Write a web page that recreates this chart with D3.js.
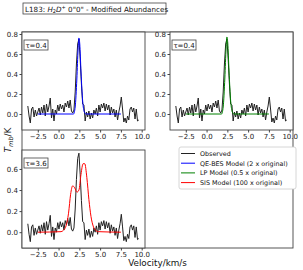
<!DOCTYPE html>
<html>
<head>
<meta charset="utf-8">
<script src="https://cdn.jsdelivr.net/npm/d3@7"></script>
<style>
body { margin: 0; background: #fff; }
text { font-family: "DejaVu Sans", sans-serif; }
</style>
</head>
<body>
<div class="chart"></div>
<script>
// observed spectrum (shared by all three panels)
var obsVel = [-3.70, -3.55, -3.40, -3.25, -3.10, -2.95, -2.80, -2.65, -2.50, -2.35,
    -2.20, -2.05, -1.90, -1.75, -1.60, -1.45, -1.30, -1.15, -1.00, -0.85,
    -0.70, -0.55, -0.40, -0.25, -0.10, 0.05, 0.20, 0.35, 0.50, 0.65,
    0.80, 0.95, 1.10, 1.25, 1.40, 1.55, 1.70, 1.85, 2.00, 2.15,
    2.30, 2.45, 2.60, 2.75, 2.90, 3.05, 3.20, 3.35, 3.50, 3.65,
    3.80, 3.95, 4.10, 4.25, 4.40, 4.55, 4.70, 4.85, 5.00, 5.15,
    5.30, 5.45, 5.60, 5.75, 5.90, 6.05, 6.20, 6.35, 6.50, 6.65,
    6.80, 6.95, 7.10, 7.25, 7.40, 7.55, 7.70, 7.85, 8.00, 8.15,
    8.30, 8.45, 8.60, 8.75, 8.90, 9.05, 9.20, 9.35, 9.50, 9.65];
var obsT = [0.08, -0.02, -0.09, 0.05, 0.07, -0.03, 0.04, -0.02, 0.02, 0.06,
    -0.01, 0.07, 0.01, 0.09, -0.02, 0.10, 0.02, 0.08, 0.16, -0.04,
    0.05, -0.07, 0.04, 0.00, 0.09, 0.03, 0.10, 0.05, 0.09, 0.02,
    0.11, 0.07, 0.13, 0.06, 0.14, 0.03, 0.01, 0.04, 0.22, 0.50,
    0.70, 0.75, 0.55, 0.30, 0.10, 0.09, -0.07, 0.02, -0.03, 0.03,
    -0.05, 0.01, -0.04, 0.04, 0.00, 0.06, -0.02, 0.09, 0.02, 0.10,
    0.06, 0.11, 0.03, 0.10, 0.04, 0.09, -0.01, 0.07, 0.01, 0.05,
    -0.03, 0.04, -0.06, 0.02, 0.08, 0.17, 0.05, -0.08, -0.04, -0.09,
    -0.02, -0.06, 0.05, 0.07, 0.02, 0.06, -0.05, 0.05, -0.07, -0.06];

// model spectra
var qeVel = [-2.5, 1.8, 2.0, 2.2, 2.35, 2.45, 2.55, 2.7, 2.9, 3.1, 3.3, 7.5];
var qeT = [0, 0, 0.07, 0.35, 0.65, 0.76, 0.70, 0.42, 0.13, 0.02, 0, 0];
var lpVel = [-2.5, 1.8, 2.0, 2.2, 2.35, 2.45, 2.55, 2.7, 2.9, 3.1, 3.3, 7.5];
var lpT = [0, 0, 0.07, 0.36, 0.66, 0.77, 0.71, 0.43, 0.13, 0.02, 0, 0];
var sisVel = [-2.5, 0.3, 0.6, 0.9, 1.2, 1.45, 1.7, 1.95, 2.2, 2.45, 2.7, 2.95, 3.15, 3.4, 3.65, 3.9, 4.2, 4.5, 4.8, 7.5];
var sisT = [0, 0.005, 0.02, 0.06, 0.18, 0.36, 0.44, 0.42, 0.38, 0.40, 0.55, 0.65, 0.65, 0.52, 0.31, 0.15, 0.05, 0.015, 0.005, 0];

var xTicks = [-2.5, 0, 2.5, 5, 7.5, 10];
var panelTau = ["τ=0.4", "τ=0.4", "τ=3.6"];
var legendLabels = ["Observed", "QE-BES Model (2 x original)", "LP Model (0.5 x original)", "SIS Model (100 x original)"];
var legendColors = ["#222", "#0000ff", "#008000", "#ff0000"];

var W = 303, H = 270;
var svg = d3.select(".chart").append("svg")
    .attr("width", W)
    .attr("height", H);

// outer frame (shared axes)
svg.append("rect")
    .attr("x", 22).attr("y", 32)
    .attr("width", 271).attr("height", 216)
    .attr("fill", "none")
    .attr("stroke", "#444")
    .attr("stroke-width", 0.9);

var panels = [
    { x0: 22, y0: 32, w: 123, h: 98, ydom: [-0.16, 0.82], yt: [0, 0.2, 0.4, 0.6, 0.8], vel: qeVel, t: qeT, color: "#0000ff" },
    { x0: 170, y0: 32, w: 123, h: 98, ydom: [-0.16, 0.82], yt: [0, 0.2, 0.4, 0.6, 0.8], vel: lpVel, t: lpT, color: "#008000" },
    { x0: 22, y0: 150, w: 123, h: 98, ydom: [-0.15, 0.78], yt: [0, 0.2, 0.4, 0.6], vel: sisVel, t: sisT, color: "#ff0000" }
];

panels.forEach(function (p, i) {
    var g = svg.append("g").attr("transform", "translate(" + p.x0 + "," + p.y0 + ")");
    var x = d3.scaleLinear().domain([-4.4, 10.4]).range([0, p.w]);
    var y = d3.scaleLinear().domain(p.ydom).range([p.h, 0]);

    g.append("rect")
        .attr("width", p.w).attr("height", p.h)
        .attr("fill", "#fff");

    var clipId = "clip" + i;
    g.append("clipPath").attr("id", clipId)
        .append("rect").attr("width", p.w).attr("height", p.h);

    var line = d3.line()
        .x(function (d) { return x(d[0]); })
        .y(function (d) { return y(d[1]); });

    g.append("path")
        .datum(obsVel.map(function (v, k) { return [v, obsT[k]]; }))
        .attr("d", line)
        .attr("clip-path", "url(#" + clipId + ")")
        .attr("fill", "none")
        .attr("stroke", "#222")
        .attr("stroke-width", 1);

    g.append("path")
        .datum(p.vel.map(function (v, k) { return [v, p.t[k]]; }))
        .attr("d", line.curve(d3.curveMonotoneX))
        .attr("clip-path", "url(#" + clipId + ")")
        .attr("fill", "none")
        .attr("stroke", p.color)
        .attr("stroke-width", 1);

    var xAxis = g.append("g")
        .attr("transform", "translate(0," + p.h + ")")
        .call(d3.axisBottom(x).tickValues(xTicks).tickFormat(d3.format(".1f")).tickSize(2.5).tickPadding(1.5));
    var yAxis = g.append("g")
        .call(d3.axisLeft(y).tickValues(p.yt).tickFormat(d3.format(".1f")).tickSize(2.5).tickPadding(1.5));
    [xAxis, yAxis].forEach(function (a) {
        a.select(".domain").remove();
        a.selectAll("line").attr("stroke", "#444");
        a.selectAll("text").attr("font-size", "7px").attr("fill", "#222")
            .attr("font-family", "DejaVu Sans");
    });

    g.append("rect")
        .attr("width", p.w).attr("height", p.h)
        .attr("fill", "none")
        .attr("stroke", "#444")
        .attr("stroke-width", 0.9);

    // tau box
    g.append("rect")
        .attr("x", 2).attr("y", 8)
        .attr("width", 24).attr("height", 10)
        .attr("fill", "#fff")
        .attr("stroke", "#444")
        .attr("stroke-width", 0.8);
    g.append("text")
        .attr("x", 14).attr("y", 15.6)
        .attr("text-anchor", "middle")
        .attr("font-size", "7px")
        .attr("fill", "#111")
        .text(panelTau[i]);
});

// title box
svg.append("rect")
    .attr("x", 23).attr("y", 3)
    .attr("width", 143).attr("height", 11)
    .attr("fill", "#fff")
    .attr("stroke", "#444")
    .attr("stroke-width", 0.8);
var title = svg.append("text")
    .attr("x", 25).attr("y", 11.5)
    .attr("font-size", "7.2px")
    .attr("fill", "#111");
title.append("tspan").text("L183: ");
title.append("tspan").attr("font-style", "italic").text("H");
title.append("tspan").attr("font-size", "5px").attr("dy", 1.5).text("2");
title.append("tspan").attr("font-style", "italic").attr("dy", -1.5).text("D");
title.append("tspan").attr("font-size", "5px").attr("dy", -3).text("+");
title.append("tspan").attr("dy", 3).text("  0\"0\" - Modified Abundances");

// legend
var lg = svg.append("g").attr("transform", "translate(179,147)");
lg.append("rect")
    .attr("width", 117).attr("height", 42)
    .attr("rx", 2)
    .attr("fill", "#fff")
    .attr("stroke", "#ccc")
    .attr("stroke-width", 0.8);
legendLabels.forEach(function (lab, i) {
    lg.append("line")
        .attr("x1", 2).attr("x2", 16)
        .attr("y1", 6.5 + i * 9.7).attr("y2", 6.5 + i * 9.7)
        .attr("stroke", legendColors[i])
        .attr("stroke-width", 1);
    lg.append("text")
        .attr("x", 21).attr("y", 8.8 + i * 9.7)
        .attr("font-size", "6.4px")
        .attr("fill", "#111")
        .text(lab);
});

// axis labels
var yl = svg.append("text")
    .attr("transform", "translate(11,140) rotate(-90)")
    .attr("text-anchor", "middle")
    .attr("font-size", "9px")
    .attr("fill", "#111");
yl.append("tspan").attr("font-style", "italic").text("T");
yl.append("tspan").attr("font-style", "italic").attr("font-size", "6.5px").attr("dy", 2).text("mb");
yl.append("tspan").attr("dy", -2).text("/K");

svg.append("text")
    .attr("x", 157.5).attr("y", 266)
    .attr("text-anchor", "middle")
    .attr("font-size", "8.8px")
    .attr("fill", "#111")
    .text("Velocity/km/s");
</script>
</body>
</html>
